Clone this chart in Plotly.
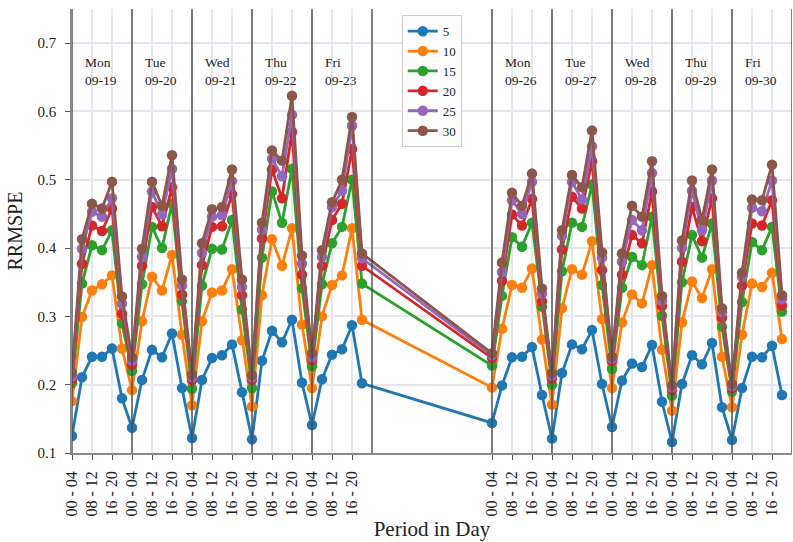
import plotly.graph_objects as go
import pandas as pd

# ---------------- data ----------------
days = ["2022-09-19", "2022-09-20", "2022-09-21", "2022-09-22", "2022-09-23",
        "2022-09-26", "2022-09-27", "2022-09-28", "2022-09-29", "2022-09-30"]
day_names = ["Mon", "Tue", "Wed", "Thu", "Fri", "Mon", "Tue", "Wed", "Thu", "Fri"]
day_dates = ["09-19", "09-20", "09-21", "09-22", "09-23",
             "09-26", "09-27", "09-28", "09-29", "09-30"]
period_hours = [0, 4, 8, 12, 16, 20]
tick_hours = [0, 8, 16]
tick_labels = ["00 - 04", "08 - 12", "16 - 20"]
separator_days = ["2022-09-19", "2022-09-20", "2022-09-21", "2022-09-22", "2022-09-23",
                  "2022-09-24", "2022-09-26", "2022-09-27", "2022-09-28", "2022-09-29",
                  "2022-09-30", "2022-10-01"]

series_names = ["5", "10", "15", "20", "25", "30"]

rrmspe_5 = [0.125, 0.211, 0.241, 0.241, 0.253, 0.180,
            0.137, 0.207, 0.251, 0.240, 0.275, 0.195,
            0.122, 0.207, 0.239, 0.243, 0.259, 0.189,
            0.120, 0.235, 0.279, 0.262, 0.295, 0.203,
            0.141, 0.208, 0.244, 0.252, 0.287, 0.202,
            0.144, 0.199, 0.240, 0.241, 0.255, 0.185,
            0.121, 0.217, 0.259, 0.252, 0.280, 0.201,
            0.138, 0.206, 0.231, 0.226, 0.258, 0.175,
            0.116, 0.201, 0.243, 0.230, 0.261, 0.167,
            0.119, 0.195, 0.241, 0.240, 0.257, 0.185]
rrmspe_10 = [0.176, 0.299, 0.338, 0.347, 0.360, 0.253,
             0.192, 0.293, 0.358, 0.338, 0.390, 0.273,
             0.170, 0.293, 0.335, 0.338, 0.369, 0.265,
             0.168, 0.331, 0.413, 0.374, 0.429, 0.288,
             0.195, 0.300, 0.346, 0.360, 0.429, 0.295,
             0.196, 0.282, 0.346, 0.342, 0.370, 0.266,
             0.171, 0.312, 0.369, 0.361, 0.410, 0.296,
             0.195, 0.291, 0.332, 0.319, 0.375, 0.251,
             0.162, 0.291, 0.351, 0.327, 0.369, 0.241,
             0.167, 0.273, 0.348, 0.343, 0.364, 0.267]
rrmspe_15 = [0.202, 0.348, 0.404, 0.397, 0.426, 0.290,
             0.220, 0.347, 0.431, 0.400, 0.465, 0.322,
             0.194, 0.345, 0.399, 0.398, 0.441, 0.310,
             0.195, 0.386, 0.483, 0.437, 0.516, 0.341,
             0.227, 0.347, 0.407, 0.431, 0.500, 0.348,
             0.228, 0.330, 0.416, 0.402, 0.437, 0.314,
             0.200, 0.366, 0.437, 0.431, 0.493, 0.346,
             0.223, 0.342, 0.387, 0.375, 0.446, 0.301,
             0.184, 0.350, 0.419, 0.386, 0.436, 0.285,
             0.190, 0.321, 0.409, 0.397, 0.431, 0.307]
rrmspe_20 = [0.207, 0.377, 0.433, 0.425, 0.458, 0.304,
             0.229, 0.374, 0.460, 0.432, 0.489, 0.332,
             0.207, 0.375, 0.431, 0.432, 0.479, 0.331,
             0.207, 0.414, 0.515, 0.473, 0.570, 0.361,
             0.236, 0.374, 0.441, 0.465, 0.545, 0.374,
             0.239, 0.352, 0.449, 0.433, 0.472, 0.322,
             0.209, 0.398, 0.475, 0.458, 0.527, 0.368,
             0.235, 0.361, 0.419, 0.407, 0.483, 0.315,
             0.192, 0.380, 0.460, 0.410, 0.473, 0.298,
             0.195, 0.345, 0.436, 0.433, 0.470, 0.316]
rrmspe_25 = [0.212, 0.399, 0.453, 0.446, 0.473, 0.319,
             0.235, 0.387, 0.483, 0.449, 0.516, 0.345,
             0.211, 0.393, 0.446, 0.448, 0.498, 0.343,
             0.211, 0.427, 0.531, 0.505, 0.595, 0.377,
             0.240, 0.387, 0.460, 0.484, 0.579, 0.385,
             0.243, 0.365, 0.470, 0.450, 0.497, 0.333,
             0.213, 0.418, 0.497, 0.471, 0.549, 0.386,
             0.238, 0.380, 0.441, 0.426, 0.510, 0.323,
             0.196, 0.400, 0.484, 0.426, 0.499, 0.306,
             0.198, 0.358, 0.459, 0.454, 0.499, 0.325]
rrmspe_30 = [0.217, 0.413, 0.465, 0.458, 0.497, 0.329,
             0.240, 0.399, 0.497, 0.462, 0.536, 0.354,
             0.215, 0.407, 0.457, 0.460, 0.515, 0.354,
             0.214, 0.437, 0.543, 0.528, 0.623, 0.389,
             0.246, 0.397, 0.467, 0.500, 0.592, 0.392,
             0.246, 0.379, 0.481, 0.462, 0.509, 0.341,
             0.217, 0.426, 0.507, 0.489, 0.572, 0.394,
             0.241, 0.392, 0.462, 0.446, 0.527, 0.330,
             0.199, 0.411, 0.499, 0.441, 0.515, 0.312,
             0.201, 0.364, 0.471, 0.470, 0.522, 0.331]

series_values = [rrmspe_5, rrmspe_10, rrmspe_15, rrmspe_20, rrmspe_25, rrmspe_30]
colors = ["#1f77b4", "#ff7f0e", "#2ca02c", "#d62728", "#9467bd", "#8c564b"]

# ---------------- build ----------------
timestamps = [pd.Timestamp(d) + pd.Timedelta(hours=h) for d in days for h in period_hours]

FONT = "Liberation Serif"
fig = go.Figure()
for name, vals, col in zip(series_names, series_values, colors):
    fig.add_trace(go.Scatter(
        x=timestamps, y=vals, name=name, mode="lines+markers",
        line=dict(color=col, width=2.8),
        marker=dict(color=col, size=10.5),
    ))

tickvals = [pd.Timestamp(d) + pd.Timedelta(hours=h) for d in days for h in tick_hours]
ticktext = [t for d in days for t in tick_labels]

for d in separator_days:
    fig.add_shape(type="line", xref="x", yref="paper",
                  x0=pd.Timestamp(d), x1=pd.Timestamp(d), y0=0, y1=1,
                  line=dict(color="rgba(70,70,70,0.85)", width=1.6), layer="above")

for d, n, dd in zip(days, day_names, day_dates):
    fig.add_annotation(x=pd.Timestamp(d) + pd.Timedelta(hours=4.4), y=0.686,
                       xref="x", yref="y", text=f"{n}<br>{dd}", showarrow=False,
                       xanchor="left", yanchor="top", align="left",
                       font=dict(family=FONT, size=13.5, color="#222"))

fig.update_layout(
    width=793, height=542,
    margin=dict(l=72, r=1, t=9, b=89),
    paper_bgcolor="white", plot_bgcolor="white",
    font=dict(family=FONT, size=14, color="#222"),
    showlegend=True,
    legend=dict(x=0.458, y=0.986, xanchor="left", yanchor="top",
                bgcolor="rgba(255,255,255,0.85)", bordercolor="#cccccc", borderwidth=1,
                font=dict(family=FONT, size=13), itemwidth=30, tracegroupgap=0),
    xaxis=dict(
        type="date",
        range=[pd.Timestamp("2022-09-19"), pd.Timestamp("2022-10-01")],
        tickmode="array", tickvals=tickvals, ticktext=ticktext, tickangle=-90,
        showgrid=True, gridcolor="#e6e6ee", gridwidth=1.5,
        showline=True, linecolor="#888888", linewidth=1.5,
        ticks="outside", ticklen=5, tickcolor="#555555", tickwidth=1.2,
        ticklabelstandoff=5,
        tickfont=dict(family=FONT, size=16),
        title=dict(text="Period in Day", font=dict(family=FONT, size=21), standoff=6),
        zeroline=False,
    ),
    yaxis=dict(
        range=[0.1, 0.75],
        tickvals=[0.1, 0.2, 0.3, 0.4, 0.5, 0.6, 0.7],
        ticktext=["0.1", "0.2", "0.3", "0.4", "0.5", "0.6", "0.7"],
        showgrid=True, gridcolor="#e6e6ee", gridwidth=1.5,
        showline=True, linecolor="#888888", linewidth=1.5,
        ticks="outside", ticklen=5, tickcolor="#555555", tickwidth=1.2,
        ticklabelstandoff=6,
        tickfont=dict(family=FONT, size=15),
        title=dict(text="RRMSPE", font=dict(family=FONT, size=20), standoff=10),
        zeroline=False,
    ),
)

fig.write_html("out.html")
